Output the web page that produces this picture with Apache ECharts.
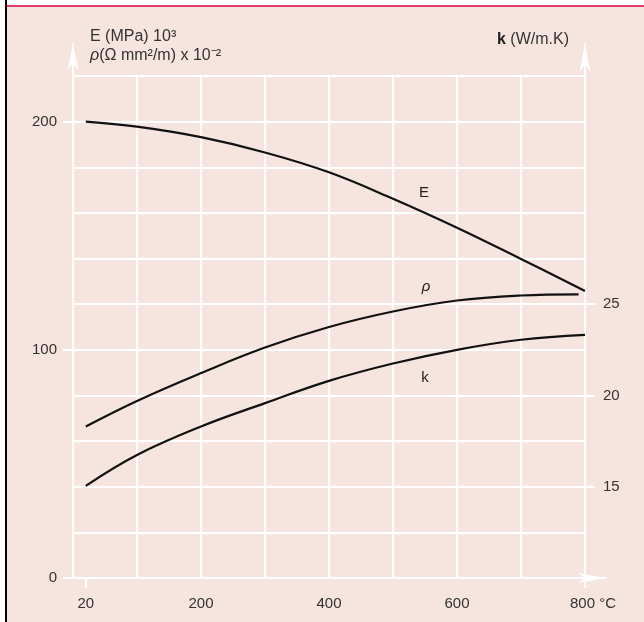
<!DOCTYPE html>
<html><head><meta charset="utf-8">
<script src="https://cdn.jsdelivr.net/npm/echarts@6/dist/echarts.min.js"></script>
<style>
html,body{margin:0;padding:0;width:644px;height:622px;background:#fff;overflow:hidden}
#bg{position:absolute;left:7px;top:7px;right:0;bottom:0;background:#f6e4df}
#vl{position:absolute;left:5px;top:0;width:2px;height:622px;background:#000}
#hl{position:absolute;left:7px;top:5px;right:0;height:2px;background:#dd4069}
#chart{position:absolute;left:0;top:0;width:644px;height:622px}
</style></head><body>
<div id="bg"></div><div id="vl"></div><div id="hl"></div><div id="chart"></div>
<script>
// ---- data ----
const temps      = [20, 100, 200, 300, 400, 500, 600, 700, 800];
const eValues    = [200, 197.8, 193.2, 186.5, 177.8, 166.2, 153.5, 139.8, 125.8];
const rhoTemps   = [20, 100, 200, 300, 400, 500, 600, 700, 790];
const rhoValues  = [66.4, 77.6, 89.8, 101, 110, 116.8, 121.6, 123.8, 124.3];
const kValues    = [15.05, 16.74, 18.3, 19.58, 20.8, 21.75, 22.5, 23.05, 23.32];
const xTickLabels     = [20, 200, 400, 600, 800];
const xTickMarks      = [20, 800];
const leftTickLabels  = [0, 100, 200];
const rightTickLabels = [15, 20, 25];
const seriesNames = ['E', 'ρ', 'k'];
const labelTemp = 500;

const FONT = "'Liberation Sans', Arial, sans-serif";
const TXT = '#333';
const W = '#ffffff';
const hidden = { show: false };

function makeSeries(name, xs, ys, yAxisIndex, offset, italic) {
  return {
    type: 'line', name: name, xAxisIndex: 0, yAxisIndex: yAxisIndex,
    smooth: 0.4, showSymbol: true, symbol: 'circle', symbolSize: 0,
    lineStyle: { color: '#111', width: 2.2 }, itemStyle: { color: '#111' },
    emphasis: { disabled: true }, silent: true, animation: false,
    data: xs.map(function (x, i) {
      const item = { value: [x, ys[i]] };
      if (x === labelTemp) {
        item.label = { show: true, formatter: name, position: 'inside', offset: offset,
          fontSize: 15, fontFamily: FONT, color: '#222', fontStyle: italic ? 'italic' : 'normal' };
      }
      return item;
    })
  };
}

const plotGrid = { left: 73, top: 76, width: 512, height: 502, outerBoundsMode: 'none' };
const chart = echarts.init(document.getElementById('chart'), null, { renderer: 'canvas' });
chart.setOption({
  animation: false,
  backgroundColor: 'transparent',
  title: [
    { left: 90, top: 27, padding: 0,
      text: '{a|E (MPa) 10³}\n{i|ρ}{a|(Ω mm²/m) x 10⁻²}',
      textStyle: { fontWeight: 'normal', rich: {
        a: { fontSize: 16, fontFamily: FONT, color: TXT, lineHeight: 19, fontWeight: 'normal' },
        i: { fontSize: 16, fontFamily: FONT, color: TXT, lineHeight: 19, fontWeight: 'normal', fontStyle: 'italic' } } } },
    { right: 75, top: 30, padding: 0,
      text: '{b|k}{a| (W/m.K)}',
      textStyle: { fontWeight: 'normal', rich: {
        a: { fontSize: 16, fontFamily: FONT, color: TXT, lineHeight: 19, fontWeight: 'normal' },
        b: { fontSize: 16, fontFamily: FONT, color: '#222', lineHeight: 19, fontWeight: 'bold' } } } }
  ],
  grid: [
    plotGrid,
    { left: 73, top: 44, width: 533, height: 534, outerBoundsMode: 'none' },
    { left: 73, top: 44, width: 512, height: 534, outerBoundsMode: 'none' },
    Object.assign({}, plotGrid)
  ],
  xAxis: [
    { gridIndex: 0, type: 'value', min: 0, max: 800, interval: 100,
      axisLine: { show: false, onZero: false }, axisTick: hidden, axisLabel: hidden,
      splitLine: { show: true, lineStyle: { color: W, width: 2 } } },
    { gridIndex: 1, type: 'value', min: 0, max: 1,
      axisLine: { show: true, onZero: false, lineStyle: { color: W, width: 2 }, symbol: ['none', 'arrow'], symbolSize: [7.5, 28] },
      axisTick: hidden, axisLabel: hidden, splitLine: hidden },
    { gridIndex: 2, type: 'value', min: 0, max: 1, show: false },
    { gridIndex: 3, type: 'value', min: 0, max: 800,
      axisLine: { show: false, onZero: false },
      axisTick: { show: true, customValues: xTickMarks, length: 10, lineStyle: { color: W, width: 2 } },
      axisLabel: { show: true, customValues: xTickLabels, margin: 18, color: TXT, fontSize: 15, fontFamily: FONT,
        formatter: function (v) { return v === 800 ? '{u|800 °C}' : String(v); },
        rich: { u: { padding: [0, 0, 0, 16], fontSize: 15, color: TXT, fontFamily: FONT } } },
      splitLine: hidden }
  ],
  yAxis: [
    { gridIndex: 0, type: 'value', min: 0, max: 220, interval: 20, position: 'left',
      axisLine: { show: false, onZero: false }, axisTick: hidden, axisLabel: hidden,
      splitLine: { show: true, lineStyle: { color: W, width: 2 } } },
    { gridIndex: 0, type: 'value', min: 10, max: 37.5, position: 'right',
      axisLine: { show: false, onZero: false },
      axisTick: { show: true, customValues: rightTickLabels, length: 10, lineStyle: { color: W, width: 2 } },
      axisLabel: { show: true, customValues: rightTickLabels, margin: 18, color: TXT, fontSize: 15, fontFamily: FONT },
      splitLine: hidden },
    { gridIndex: 1, type: 'value', min: 0, max: 1, position: 'left',
      axisLine: { show: true, onZero: false, lineStyle: { color: W, width: 2 }, symbol: ['none', 'arrow'], symbolSize: [8, 26] },
      axisTick: hidden, axisLabel: hidden, splitLine: hidden },
    { gridIndex: 2, type: 'value', min: 0, max: 1, position: 'right',
      axisLine: { show: true, onZero: false, lineStyle: { color: W, width: 2 }, symbol: ['none', 'arrow'], symbolSize: [8, 28] },
      axisTick: hidden, axisLabel: hidden, splitLine: hidden },
    { gridIndex: 3, type: 'value', min: 0, max: 220, position: 'left',
      axisLine: { show: false, onZero: false },
      axisTick: { show: true, customValues: leftTickLabels, length: 10, lineStyle: { color: W, width: 2 } },
      axisLabel: { show: true, customValues: leftTickLabels, margin: 16, color: TXT, fontSize: 15, fontFamily: FONT },
      splitLine: hidden }
  ],
  series: [
    makeSeries(seriesNames[0], temps, eValues, 0, [31, -6], false),
    makeSeries(seriesNames[1], rhoTemps, rhoValues, 0, [33, -25], true),
    makeSeries(seriesNames[2], temps, kValues, 1, [32, 14], false)
  ]
});
</script>
</body></html>
